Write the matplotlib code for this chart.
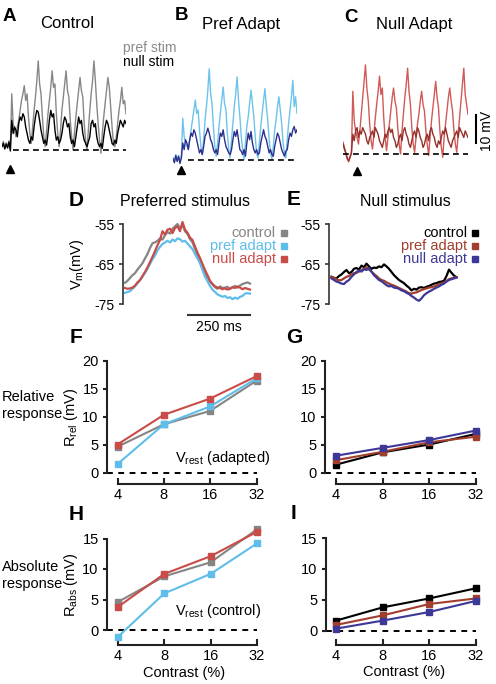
import numpy as np
import matplotlib
matplotlib.use("Agg")
import matplotlib.pyplot as plt
from matplotlib.ticker import NullLocator

plt.rcParams["font.family"] = ["Liberation Sans", "DejaVu Sans"]
plt.rcParams["mathtext.fontset"] = "custom"
plt.rcParams["mathtext.rm"] = "Liberation Sans"
plt.rcParams["axes.unicode_minus"] = False
plt.rcParams["font.size"] = 10

# ---- A-C: example Vm traces, mV above resting level
# 7 pre-stimulus samples, 3 onset samples, then 8 stimulus cycles of 10 samples
a_pref = [1.5, 2.6, 0.6, 2.2, 0.9, 2.8, 0.2,
          17, 8, 6,
          4, 7, 9, 12, 15, 17, 19.5, 15, 17, 10,
          5, 2, 7, 12, 16, 21, 27, 20, 17, 10,
          4, 1, 6, 11, 15, 19, 24, 19, 20, 11,
          5, 1, 6, 12, 16, 20, 24, 18, 16, 9,
          4, 0, 5, 10, 14, 18, 22, 18, 16, 8,
          3, 0, 6, 12, 17, 21, 27, 21, 14, 8,
          3, -1, 5, 10, 14, 18, 22, 19, 13, 7,
          2, 1, 4, 8, 12, 15, 19, 14, 15, 11]
a_null = [1.0, 2.0, 0.3, 1.8, 0.6, 2.4, -0.3,
          9, 5, 7,
          6, 4, 8, 10, 9, 11, 10, 7, 5, 3,
          2, 4, 3, 7, 10, 12, 11.5, 9, 6, 4,
          2, 3, 1.5, 5, 9, 12, 10, 11, 6, 3,
          4, 2, 3, 5, 8, 10, 9, 7, 8, 4,
          2, 3, 1, 4, 7, 10, 8, 9, 5, 3,
          2, 1, 2.5, 4, 8, 9, 7, 8, 4, 2,
          1, 2, 0.5, 4, 7, 9, 8, 6, 4, 2,
          1.5, 3, 2, 5, 7, 9, 8, 7, 9, 8]
b_pref = [0.5, -0.8, 1.5, -0.5, 1.2, -1.0, 0.8,
          12.5, 7, 5,
          4, 3, 6, 9, 12, 15, 18, 14, 15, 9,
          4, 1.5, 6, 12, 16, 21, 27.5, 20, 17, 10,
          4, 1, 5, 10, 14, 18, 22, 17, 15, 8,
          3, 0.5, 6, 11, 16, 20, 25, 18, 13, 7,
          3, 0, 5, 10, 13, 17, 21, 17, 13, 7,
          2, 0.5, 5, 10, 14, 18, 21.5, 16, 12, 6,
          2, 0, 4, 9, 12, 16, 19, 15, 11, 5,
          2, 0.5, 6, 11, 15, 19, 24, 16, 19, 14]
b_null = [0.3, -1.0, 1.2, -0.6, 1.0, -1.2, 0.5,
          5, 3, 6,
          5, 3, 6, 8, 7, 9, 8, 6, 4, 2,
          3, 1.5, 4, 7, 8, 9.5, 8, 6, 5, 3,
          2, 3, 1.5, 5, 8, 7, 9, 6, 4, 3,
          2, 1.5, 3, 6, 8.5, 7, 9, 6, 3, 2.5,
          1.5, 3, 1, 5, 8, 6, 8.5, 5, 3, 2,
          3, 1.5, 2, 5, 7, 9, 7, 6, 4, 2,
          3, 1.5, 1, 4, 6, 8, 7, 5, 3, 2,
          1, 2.5, 3, 6, 8, 7, 9, 10, 8, 9]
c_pref = [3.6, 2.0, 0.5, -1.0, -2.4, -1.2, 0.5,
          19, 10, 7,
          5, 3, 7, 12, 17, 22, 27, 20, 16, 9,
          4, 1.5, 6, 11, 15, 19, 23.6, 18, 20, 11,
          5, 1, 5, 9, 13, 17, 20, 16, 14, 8,
          3, 0, 7, 12, 17, 21, 26, 19, 15, 8,
          3, 0.5, 5, 9, 12, 16, 19, 15, 13, 7,
          3, -0.5, 5, 10, 14, 18, 22, 17, 14, 7,
          2, -1, 5, 9, 13, 17, 20, 16, 13, 7,
          3, 0.5, 6, 11, 16, 21, 26, 18, 15, 12]
c_null = [3.0, 1.5, 0.2, -1.5, -2.0, -0.8, 0.3,
          6, 4, 7,
          8, 5, 7, 6, 8, 7, 6, 4, 3, 5,
          6, 7, 5, 8, 7, 6, 4, 3, 2, 4,
          6, 5, 7, 8, 6.5, 7.5, 5, 4, 2, 3,
          5, 6, 4, 7, 8, 6, 5, 3, 2, 4,
          6, 7, 5, 8, 7, 5, 4, 2, 3, 5,
          6, 4, 7, 8, 6, 5, 3, 2, 4, 3,
          5, 7, 6, 8, 6, 4, 3, 2, 4, 5,
          6, 7, 5, 8, 7, 6, 5, 7, 6, 5]

# ---- D-E: average cycle, Vm (mV) every 10 ms from 0 to 500 ms
cycle_t = np.arange(0, 501, 10)
d_control = [-69.7, -69.2, -68.5, -67.8, -67.3, -66.4, -65.6, -64.8, -63.6, -62.5,
             -61.0, -59.8, -59.6, -59.2, -58.6, -58.9, -57.8, -57.0, -57.4, -56.2,
             -55.6, -55.0, -56.0, -55.3, -56.8, -57.5, -58.8, -59.6, -61.2, -62.8,
             -64.5, -66.0, -67.2, -68.3, -69.4, -70.1, -70.8, -71.2, -70.6, -71.0,
             -70.9, -70.7, -71.2, -70.8, -70.5, -70.9, -70.4, -70.0, -69.8, -69.6,
             -69.9]
d_pref = [-72.2, -72.0, -71.8, -71.2, -70.6, -69.8, -69.1, -68.2, -67.2, -66.2,
          -65.0, -63.8, -62.9, -61.6, -60.7, -60.0, -59.6, -59.2, -59.6, -58.9,
          -59.3, -58.6, -58.8, -59.4, -59.2, -59.9, -60.6, -61.3, -62.5, -63.6,
          -64.8, -66.5, -68.2, -69.3, -70.5, -71.4, -72.0, -72.6, -72.9, -73.2,
          -73.0, -73.5, -73.3, -73.8, -73.4, -73.7, -73.2, -73.0, -72.4, -72.3,
          -72.4]
d_null = [-71.0, -71.2, -71.1, -70.9, -70.4, -69.6, -69.0, -68.0, -67.0, -65.8,
          -64.5, -63.2, -61.8, -60.3, -59.0, -56.8, -57.6, -56.4, -56.2, -57.3,
          -56.0, -55.6, -56.8, -54.5, -56.4, -57.2, -58.4, -59.0, -60.6, -62.2,
          -63.5, -65.0, -66.5, -67.8, -69.2, -70.0, -70.6, -70.9, -71.0, -71.3,
          -71.1, -71.4, -71.2, -70.8, -71.0, -70.6, -70.9, -71.3, -71.0, -71.2,
          -71.4]
e_control = [-68.2, -68.5, -68.6, -68.0, -67.6, -67.0, -66.5, -67.3, -67.0, -66.2,
             -66.0, -66.4, -65.4, -65.8, -64.9, -65.6, -66.2, -65.9, -66.0, -65.6,
             -65.8, -65.1, -65.6, -66.2, -67.0, -67.8, -68.4, -69.0, -69.4, -69.8,
             -70.4, -70.9, -71.6, -71.2, -71.4, -70.9, -70.8, -71.0, -70.7, -70.5,
             -70.2, -69.9, -69.8, -69.5, -69.4, -69.2, -68.0, -66.4, -67.2, -67.9,
             -68.3]
e_pref = [-68.2, -68.4, -68.8, -69.1, -69.0, -68.6, -68.2, -68.0, -67.6, -67.3,
          -67.2, -66.9, -66.5, -66.2, -65.8, -66.4, -66.9, -67.5, -68.0, -68.6,
          -69.0, -69.2, -69.6, -69.9, -70.2, -70.4, -70.7, -71.0, -71.3, -71.6,
          -71.9, -72.3, -72.4, -72.2, -72.1, -71.8, -71.5, -71.3, -71.1, -70.9,
          -70.8, -70.6, -70.4, -70.1, -69.9, -69.6, -69.2, -68.8, -68.6, -68.4,
          -68.3]
e_null = [-68.6, -69.0, -69.4, -69.6, -69.9, -70.0, -69.4, -69.0, -68.2, -67.6,
          -67.0, -66.6, -66.9, -66.3, -66.5, -66.0, -66.9, -67.8, -68.4, -69.0,
          -69.3, -69.8, -70.3, -70.6, -70.5, -70.9, -71.0, -71.2, -71.6, -71.8,
          -72.2, -72.5, -73.0, -73.4, -73.9, -74.2, -73.6, -72.8, -72.3, -71.9,
          -71.6, -71.2, -70.9, -70.6, -70.2, -69.9, -69.4, -69.0, -68.8, -68.6,
          -68.4]

# ---- F-I: response vs contrast (mV)
contrast = [4, 8, 16, 32]
f_control = [4.6, 8.6, 11.0, 16.4]
f_pref = [1.5, 8.6, 11.8, 16.8]
f_null = [5.0, 10.3, 13.2, 17.2]
g_control = [1.4, 3.6, 5.0, 6.9]
g_pref = [2.2, 3.7, 5.4, 6.4]
g_null = [3.0, 4.4, 5.8, 7.5]
h_control = [4.6, 8.8, 11.1, 16.5]
h_pref = [-1.1, 6.0, 9.2, 14.2]
h_null = [3.8, 9.2, 12.1, 16.1]
i_control = [1.6, 3.75, 5.2, 6.85]
i_pref = [0.9, 2.45, 4.3, 5.2]
i_null = [0.3, 1.6, 3.0, 4.8]

GRAY = "#858585"
LBLUE = "#5fbdea"
RED = "#c94c48"
BROWN = "#a23e2e"
PURPLE = "#3d3897"

W, H = 496, 684
fig = plt.figure(figsize=(W / 100, H / 100), dpi=100)


def rect(x0, y0, x1, y1):
    return [x0 / W, 1 - y1 / H, (x1 - x0) / W, (y1 - y0) / H]


def trace_panel(x0, x1, base, pref, null, c_pref, c_null, dash_from):
    mv = 3.3  # px per mV
    ax = fig.add_axes(rect(x0, base - 105, x1, base + 15))
    t = np.arange(len(pref))
    ax.plot(t, pref, color=c_pref, lw=1.0)
    ax.plot(t, null, color=c_null, lw=1.0)
    ax.set_xlim(0, len(pref) - 1)
    ax.set_ylim(-15 / mv, 105 / mv)
    ax.axhline(0, xmin=(dash_from - x0) / (x1 - x0), xmax=1.0, color="k",
               lw=1.2, ls=(0, (3.5, 2.5)))
    ax.axis("off")
    return ax


trace_panel(2, 126, 150, a_pref, a_null, "#878787", "black", 13)
trace_panel(173, 297, 159.5, b_pref, b_null, "#6cc3ec", "#2f2f8c", 188)
trace_panel(343, 468, 154, c_pref, c_null, "#d15a58", "#96302a", 343)


def vm_panel(spine_x, t0_x, traces):
    ax = fig.add_axes(rect(spine_x, 220, t0_x + 130, 308))
    for vals, col in traces:
        ax.plot(cycle_t, vals, color=col, lw=1.6)
    ax.set_xlim(-(t0_x - spine_x) * 4, 130 * 4)
    ax.set_ylim(-76, -54)
    for s in ["top", "right", "bottom"]:
        ax.spines[s].set_visible(False)
    ax.spines["left"].set_bounds(-75, -55)
    ax.spines["left"].set_linewidth(1.2)
    ax.spines["left"].set_color("#333333")
    ax.set_xticks([])
    ax.set_yticks([-75, -65, -55])
    ax.tick_params(axis="y", direction="out", length=3, width=1.2,
                   labelsize=10, pad=3, color="#333333")
    ax.patch.set_visible(False)
    return ax


axd = vm_panel(123, 125, [(d_control, GRAY), (d_pref, LBLUE), (d_null, RED)])
axd.set_ylabel(r"$\mathregular{V_m}$(mV)", fontsize=10.5, labelpad=6)
vm_panel(329, 331.5, [(e_control, "black"), (e_pref, BROWN), (e_null, PURPLE)])


def contrast_panel(spine_x, x4, x32, y0, yv, ytopv, bottom_y, top_y, right_x, series):
    ppo = (x32 - x4) / 3.0
    ppu = (y0 - yv) / ytopv
    ax = fig.add_axes(rect(spine_x, top_y, right_x, bottom_y))
    ax.set_xscale("log", base=2)
    xl = (4 * 2 ** (-(x4 - spine_x) / ppo), 32 * 2 ** ((right_x - x32) / ppo))
    ax.set_xlim(*xl)
    ax.set_ylim(-(bottom_y - y0) / ppu, ytopv + (yv - top_y) / ppu)
    ax.plot([xl[0], 32], [0, 0], color="k", lw=1.4, ls=(0, (3, 2.8)))
    for vals, col in series:
        ax.plot(contrast, vals, color=col, lw=1.5, marker="s", ms=4.8,
                clip_on=False)
    for s in ["top", "right"]:
        ax.spines[s].set_visible(False)
    for s in ["left", "bottom"]:
        ax.spines[s].set_linewidth(1.5)
        ax.spines[s].set_color("#222222")
    ax.spines["left"].set_bounds(0, ytopv)
    ax.spines["bottom"].set_bounds(4, 32)
    ax.xaxis.set_minor_locator(NullLocator())
    ax.set_xticks(contrast, labels=[str(c) for c in contrast])
    ax.set_yticks(np.arange(0, ytopv + 1, 5))
    ax.tick_params(axis="x", direction="in", length=4, width=1.5,
                   labelsize=10.5, pad=3, color="#222222")
    ax.tick_params(axis="y", direction="out", length=3, width=1.5,
                   labelsize=10.5, pad=3, color="#222222")
    ax.patch.set_visible(False)
    return ax


axf = contrast_panel(107, 117.5, 256.5, 472.5, 360.5, 20, 483.5, 352, 262,
                     [(f_control, GRAY), (f_pref, LBLUE), (f_null, RED)])
axf.set_ylabel(r"$\mathregular{R_{rel}}$ (mV)", fontsize=10.5, labelpad=2)
contrast_panel(325, 336, 476, 472.5, 360.5, 20, 483.5, 352, 482,
               [(g_control, "black"), (g_pref, BROWN), (g_null, PURPLE)])
axh = contrast_panel(107, 118, 257, 630, 538.5, 15, 645, 525, 262,
                     [(h_control, GRAY), (h_null, RED), (h_pref, LBLUE)])
axh.set_ylabel(r"$\mathregular{R_{abs}}$ (mV)", fontsize=10.5, labelpad=2)
axh.set_xlabel("Contrast (%)", fontsize=10.5, labelpad=2)
axi = contrast_panel(325.5, 336, 476, 630.5, 538, 15, 644.5, 525, 482,
                     [(i_control, "black"), (i_pref, BROWN), (i_null, PURPLE)])
axi.set_xlabel("Contrast (%)", fontsize=10.5, labelpad=2)

# ---- annotation layer in pixel coordinates
ov = fig.add_axes([0, 0, 1, 1])
ov.set_xlim(0, W)
ov.set_ylim(H, 0)
ov.axis("off")

for lab, x, y in [("A", 9.5, 21), ("B", 182, 20), ("C", 351, 21.5)]:
    ov.text(x, y, lab, fontsize=13.5, fontweight="bold", ha="center", va="baseline")
for lab, x, y in [("D", 76, 206), ("E", 294, 205), ("F", 76, 343),
                  ("G", 294, 343), ("H", 76, 520), ("I", 294, 519)]:
    ov.text(x, y, lab, fontsize=15, fontweight="bold", ha="center", va="baseline")

ov.text(67, 28.5, "Control", fontsize=12, ha="center", va="baseline")
ov.text(241, 28.5, "Pref Adapt", fontsize=12, ha="center", va="baseline")
ov.text(414, 28.5, "Null Adapt", fontsize=12, ha="center", va="baseline")
ov.text(185, 206.5, "Preferred stimulus", fontsize=11.5, ha="center", va="baseline")
ov.text(405, 206.5, "Null stimulus", fontsize=11.5, ha="center", va="baseline")

ov.text(123, 52, "pref stim", fontsize=10, color="#8a8a8a", va="baseline")
ov.text(123, 66, "null stim", fontsize=10, color="black", va="baseline")

for x, y in [(10, 169), (181, 170), (357, 171)]:
    ov.plot(x, y, marker="^", ms=5.5, color="black", ls="none")

ov.plot([476, 476], [115, 143], color="black", lw=1.5)
ov.text(487, 131, "10 mV", fontsize=10, rotation=90, ha="center", va="center")

ov.plot([188, 250], [315, 315], color="#333333", lw=1.5)
ov.text(219, 331, "250 ms", fontsize=10, ha="center", va="baseline")

for txt, col, y in [("control", GRAY, 237), ("pref adapt", LBLUE, 250),
                    ("null adapt", RED, 263)]:
    ov.text(276, y, txt, fontsize=10.5, color=col, ha="right", va="baseline")
    ov.plot(284, y - 4.5, marker="s", ms=5, color=col, ls="none")
for txt, col, y in [("control", "black", 237), ("pref adapt", BROWN, 250),
                    ("null adapt", PURPLE, 263)]:
    ov.text(467, y, txt, fontsize=10.5, color=col, ha="right", va="baseline")
    ov.plot(475, y - 4.5, marker="s", ms=5, color=col, ls="none")

ov.text(2, 401, "Relative", fontsize=10.5, va="baseline")
ov.text(2, 418, "response", fontsize=10.5, va="baseline")
ov.text(2, 571, "Absolute", fontsize=10.5, va="baseline")
ov.text(2, 588, "response", fontsize=10.5, va="baseline")

ov.text(175, 462, r"$\mathregular{V_{rest}}$ (adapted)", fontsize=10.5, va="baseline")
ov.text(175, 615, r"$\mathregular{V_{rest}}$ (control)", fontsize=10.5, va="baseline")

fig.savefig("out.png", dpi=100)
